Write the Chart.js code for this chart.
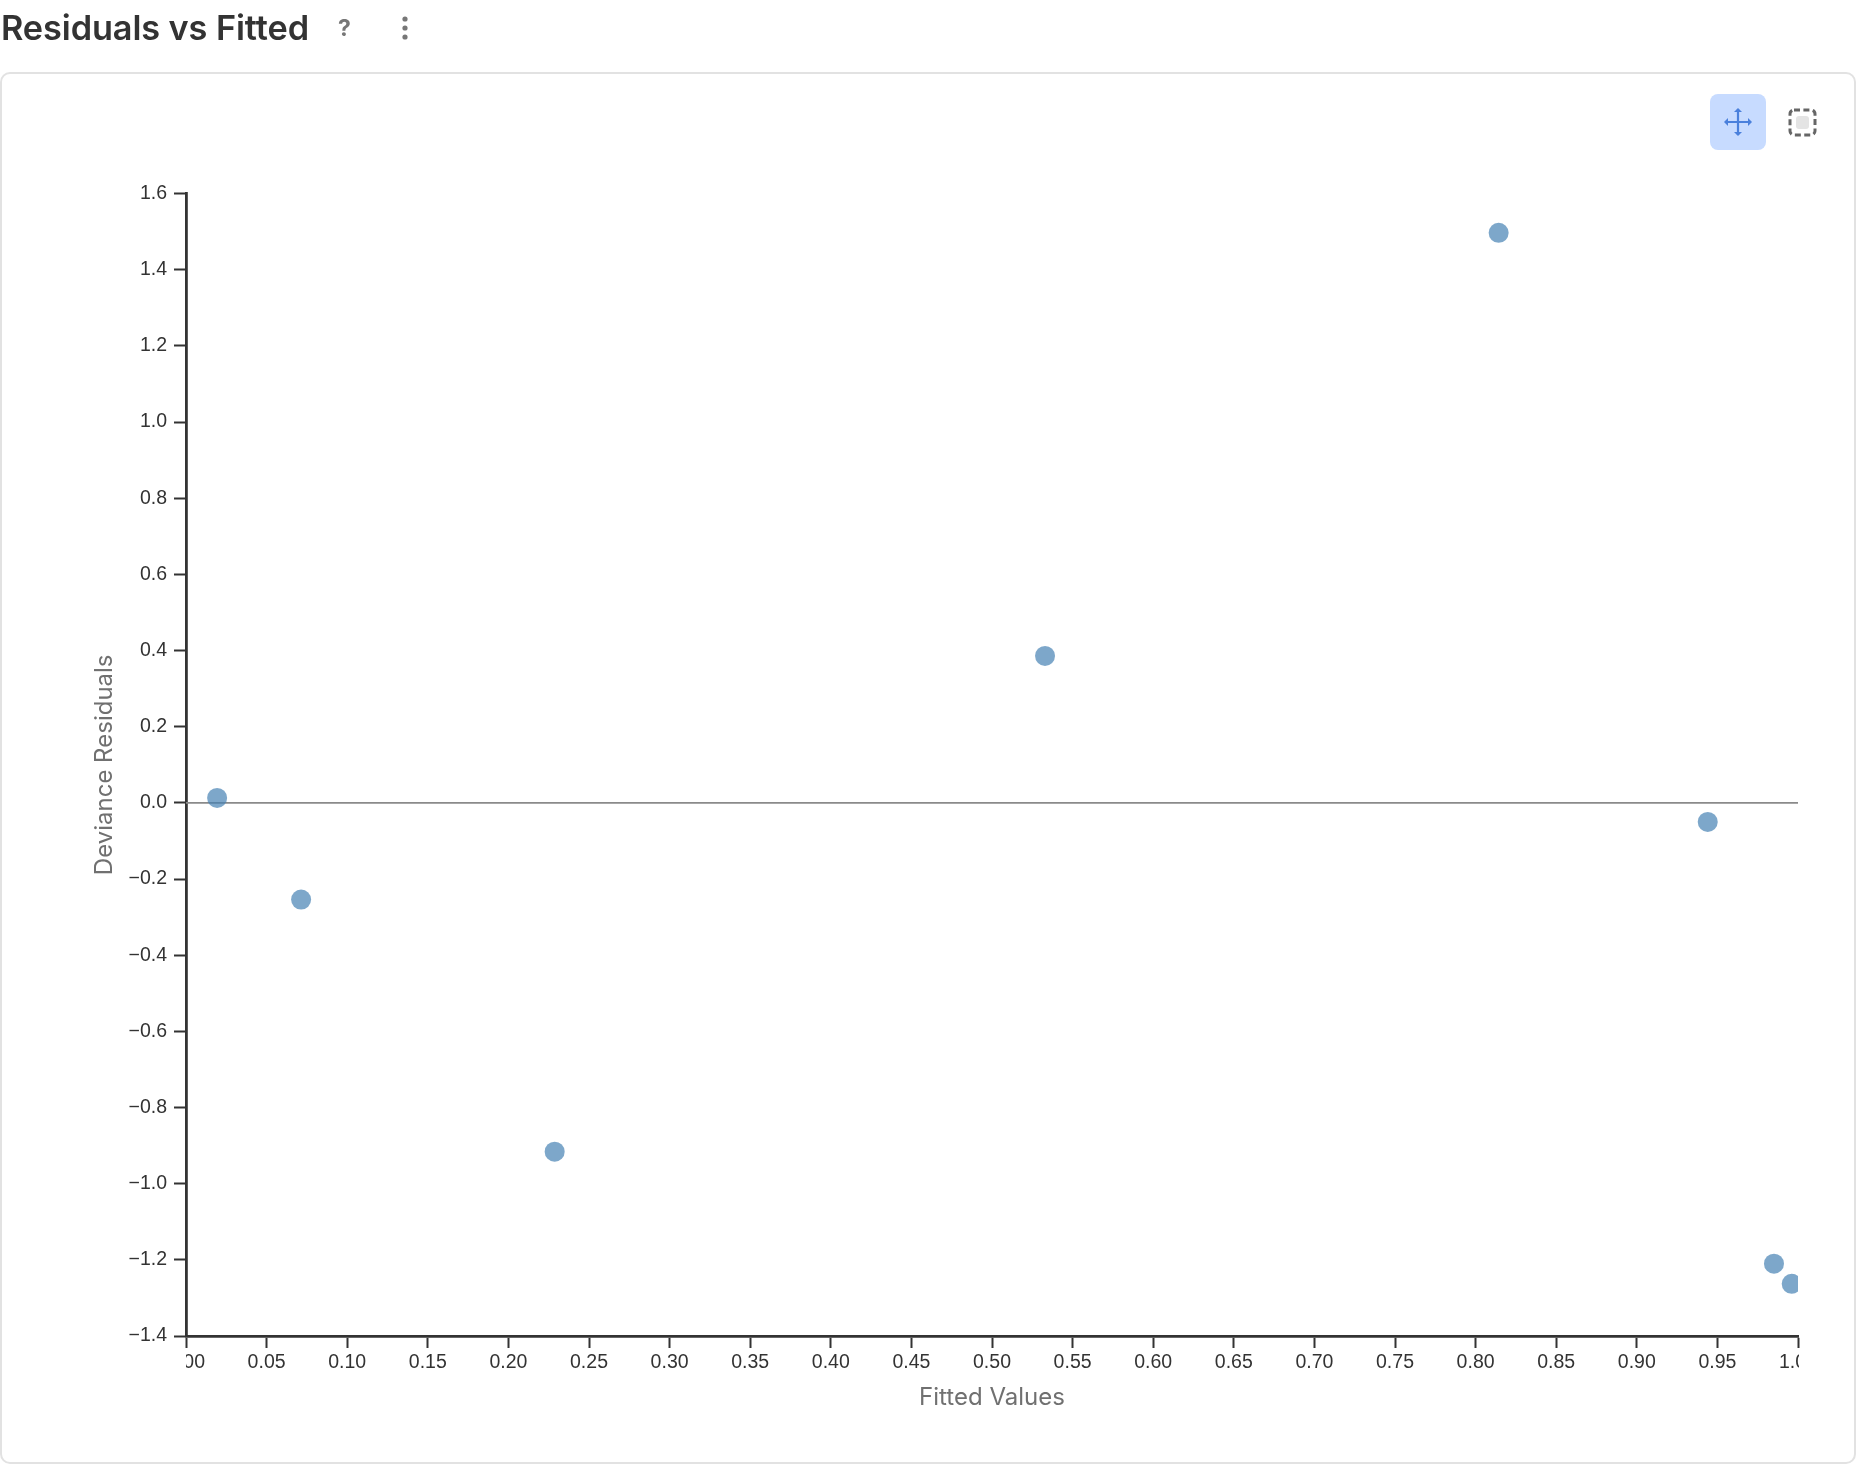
<!DOCTYPE html>
<html>
<head>
<meta charset="utf-8">
<title>Residuals vs Fitted</title>
<script src="https://cdn.jsdelivr.net/npm/chart.js@4"></script>
<style>
    html, body { margin: 0; padding: 0; background: #fff; overflow: hidden; }
    #page { position: relative; width: 1856px; height: 1466px; }
    #title { position: absolute; left: 1px; top: 4px; font: 600 34.3px/48px Inter, sans-serif; color: #333; white-space: nowrap; letter-spacing: -0.1px; }
    #help { position: absolute; left: 338px; top: 12px; font: 700 23px/32px Inter, sans-serif; color: #777; }
    #menu { position: absolute; left: 399px; top: 15px; }
    #card { position: absolute; left: 0; top: 72px; width: 1852px; height: 1388px; border: 2px solid #e2e2e2; border-radius: 10px; }
    #chart { position: absolute; left: 0; top: 0; }
    #move { position: absolute; left: 1710px; top: 94px; width: 56px; height: 56px; background: #c7dbff; border-radius: 8px; }
    #select { position: absolute; left: 1787px; top: 107px; }
</style>
</head>
<body>
<div id="page">
    <div id="card"></div>
    <canvas id="chart" width="1856" height="1466"></canvas>
    <div id="title">Residuals vs Fitted</div>
    <div id="help">?</div>
    <svg id="menu" width="12" height="26"><circle cx="6" cy="4" r="2.6" fill="#777"/><circle cx="6" cy="13" r="2.6" fill="#777"/><circle cx="6" cy="22" r="2.6" fill="#777"/></svg>
    <div id="move">
        <svg width="56" height="56" viewBox="0 0 56 56" fill="#4a80dc" stroke="#4a80dc">
            <path d="M28 15V41M15 28H41" stroke-width="2.2" fill="none"/>
            <path d="M28 14l-4 4h8zM28 42l-4-4h8zM14 28l4-4v8zM42 28l-4-4v8z" stroke="none"/>
        </svg>
    </div>
    <svg id="select" width="32" height="32">
        <rect x="9" y="9" width="13" height="13" rx="3" fill="#e4e4e4"/>
        <rect x="3" y="3" width="25" height="25" rx="4" fill="none" stroke="#666" stroke-width="3" stroke-dasharray="6 3.4"/>
    </svg>
</div>
<script>
// valores
const fittedValues = [0.0193, 0.0714, 0.2287, 0.5329, 0.8143, 0.9440, 0.9851, 0.9961];
const devianceResiduals = [0.013, -0.254, -0.916, 0.386, 1.497, -0.050, -1.210, -1.263];
const zeroLineX = [0, 1];
const zeroLineY = [0, 0];
const xTickStep = 0.05;
const yTickStep = 0.2;

const axisColor = '#333333';
const tickFont = { family: '"Liberation Sans", Arial, sans-serif', size: 19.5 };
const titleFont = { family: 'Inter, sans-serif', size: 24 };

// corta os rótulos das pontas do eixo x, como no original
const clipEdgeLabels = {
    id: 'clipEdgeLabels',
    afterDraw(chart) {
        const { ctx, chartArea } = chart;
        const top = chartArea.bottom + 14;
        ctx.save();
        ctx.fillStyle = '#fff';
        ctx.fillRect(chartArea.left - 40, top, 40, 32);
        ctx.fillRect(chartArea.right + 1, top, 40, 32);
        ctx.restore();
    }
};

new Chart(document.getElementById('chart').getContext('2d'), {
    type: 'scatter',
    data: {
        datasets: [
            {
                data: fittedValues.map((x, i) => ({ x: x, y: devianceResiduals[i] })),
                backgroundColor: 'rgba(70, 130, 180, 0.7)',
                borderWidth: 0,
                pointRadius: 10,
                clip: 0,
                order: 1
            },
            {
                data: zeroLineX.map((x, i) => ({ x: x, y: zeroLineY[i] })),
                showLine: true,
                borderColor: '#8a8a8a',
                borderWidth: 1.6,
                pointRadius: 0,
                clip: 0,
                order: 2
            }
        ]
    },
    plugins: [clipEdgeLabels],
    options: {
        responsive: false,
        animation: false,
        devicePixelRatio: 1,
        layout: { padding: { left: 84, top: 193.6, right: 58, bottom: 50 } },
        plugins: { legend: { display: false }, tooltip: { enabled: false } },
        scales: {
            x: {
                type: 'linear',
                min: 0,
                max: 1,
                afterFit: (scale) => { scale.height = 80; },
                border: { color: axisColor, width: 2.8 },
                grid: { drawOnChartArea: false, color: axisColor, tickLength: 12, tickWidth: 2 },
                ticks: {
                    stepSize: xTickStep,
                    autoSkip: false,
                    maxRotation: 0,
                    color: axisColor,
                    font: tickFont,
                    padding: 3,
                    callback: (v) => v.toFixed(2)
                },
                title: { display: true, text: 'Fitted Values', color: '#707070', font: titleFont, padding: { top: 12 } }
            },
            y: {
                type: 'linear',
                min: -1.4,
                max: 1.6,
                afterFit: (scale) => { scale.width = 102; },
                border: { color: axisColor, width: 2.8 },
                grid: { drawOnChartArea: false, color: axisColor, tickLength: 12, tickWidth: 2 },
                ticks: {
                    stepSize: yTickStep,
                    autoSkip: false,
                    color: axisColor,
                    font: tickFont,
                    padding: 7,
                    callback: (v) => v.toFixed(1).replace('-', '\u2212')
                },
                title: { display: true, text: 'Deviance Residuals', color: '#707070', font: titleFont, padding: { top: 6 } }
            }
        }
    }
});
</script>
</body>
</html>
